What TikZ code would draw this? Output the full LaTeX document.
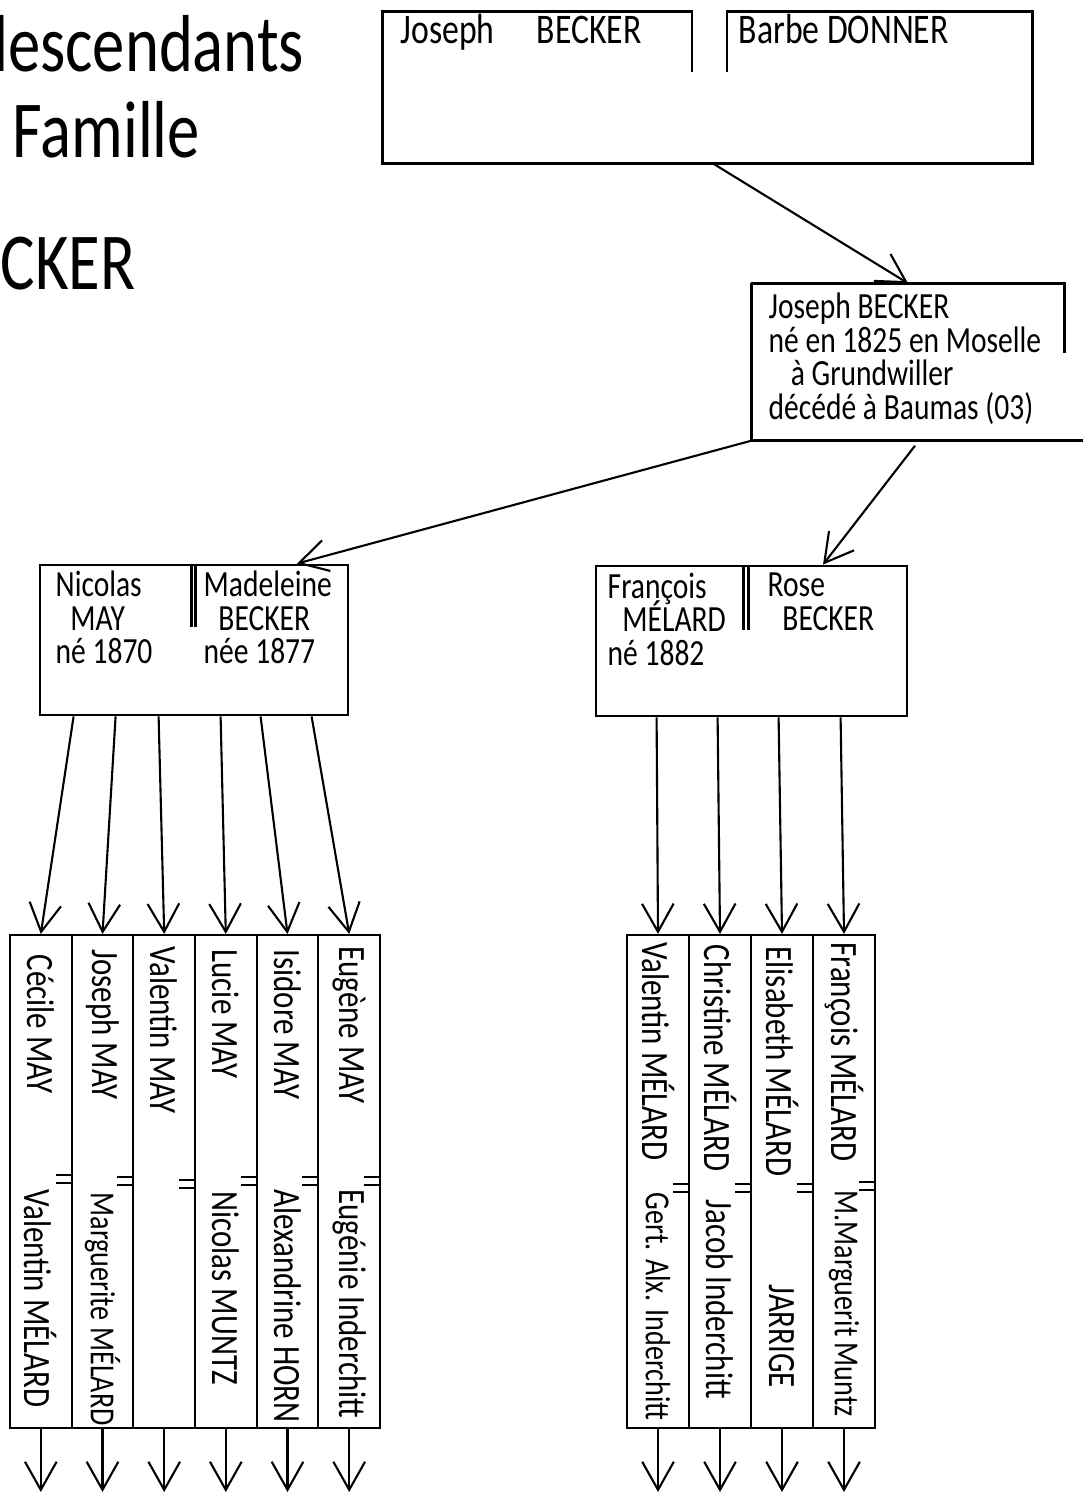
\documentclass[tikz,border=0pt]{standalone}
\usepackage{fontspec}
\setmainfont[FakeStretch=0.8]{Carlito}
\usetikzlibrary{arrows.meta}

\newcommand{\marry}[2]{\draw[thick] ([yshift=-#2cm]#1.north east) -- ++(-0.17,0) ([yshift=-#2cm-0.08cm]#1.north east) -- ++(-0.17,0);}
\newcommand{\packed}{\lineskiplimit=-100pt\relax\lineskip=0pt\relax}

\begin{document}
\begin{tikzpicture}[
    hand/.style={font=\fontsize{11}{12}\selectfont, inner sep=0pt},
    lines/.style={font=\fontsize{10.5}{9.6}\selectfont\packed, inner sep=0pt, anchor=north west, align=left},
    title/.style={font=\fontsize{23}{26}\selectfont, inner sep=0pt},
    frame/.style={minimum width=#1, minimum height=1.5cm, inner sep=0pt},
    couple/.style={draw, thick, minimum width=#1, minimum height=1.5cm, inner sep=0pt},
    col/.style={draw, semithick, minimum width=#1, minimum height=4.93cm, inner sep=0pt},
    kid/.style={hand, rotate=-90, anchor=west},
    small/.style={font=\fontsize{10}{12}\selectfont},
    arrow/.style={-{Straight Barb[length=8pt,width=9pt]}, semithick}
]
\useasboundingbox (0,0) rectangle (10.9,-14.99);

% Title
\node[title, anchor=base east] (tdesc) at (3.05,-0.72) {descendants};
\node[title, anchor=base west] (tfam) at (0.12,-1.58) {Famille};
\node[title, anchor=base east] (tname) at (1.36,-2.90) {BECKER};

% Parents
\node[frame=6.49cm] (top) at (7.075,-0.875) {};
\draw[thick] ([xshift=-0.155cm,yshift=-0.6cm]top.north) -- ([xshift=-0.155cm]top.north) -- (top.north west) -- (top.south west)
    -- (top.south east) -- (top.north east) -- ([xshift=0.195cm]top.north) -- ([xshift=0.195cm,yshift=-0.6cm]top.north);
\node[hand, font=\fontsize{12}{14}\selectfont, anchor=base west] (tjos) at (4.00,-0.44) {Joseph\quad BECKER};
\node[hand, font=\fontsize{12}{14}\selectfont, anchor=base west] (tbar) at (7.38,-0.44) {Barbe DONNER};

% Joseph
\node[frame=3.12cm, minimum height=1.56cm] (jb) at (9.08,-3.62) {};
\draw[thick] (jb.north west) -- (jb.north east) -- ([yshift=-0.7cm]jb.north east);
\draw[thick] (jb.north west) -- (jb.south west) -- ([xshift=0.18cm]jb.south east);
\node[lines] (jbtxt) at (7.68,-2.92)
    {Joseph BECKER\\né en 1825 en Moselle\\\hspace*{0.6em}à Grundwiller\\décédé à Baumas (03)};

% Couples
\node[couple=3.08cm] (nm) at (1.94,-6.40) {};
\draw[thick] ([xshift=1.53cm]nm.north west) -- ++(0,-0.63) ([xshift=1.57cm]nm.north west) -- ++(0,-0.63);
\node[lines] (nmay) at (0.55,-5.70) {Nicolas\\\hspace*{0.4em}MAY\\né 1870};
\node[lines] (mbec) at (2.03,-5.70) {Madeleine\\\hspace*{0.4em}BECKER\\née 1877};

\node[couple=3.11cm] (fr) at (7.515,-6.41) {};
\draw[thick] ([xshift=1.49cm]fr.north west) -- ++(0,-0.65) ([xshift=1.54cm]fr.north west) -- ++(0,-0.65);
\node[lines] (fmel) at (6.07,-5.72) {François\\\hspace*{0.4em}MÉLARD\\né 1882};
\node[lines] (rbec) at (7.67,-5.72) {Rose\\\hspace*{0.4em}BECKER};

% Children MAY
\node[col=0.617cm] (c1) at (0.408,-11.815) {};
\node[col=0.617cm] (c2) at (1.025,-11.815) {};
\node[col=0.617cm] (c3) at (1.642,-11.815) {};
\node[col=0.617cm] (c4) at (2.258,-11.815) {};
\node[col=0.617cm] (c5) at (2.875,-11.815) {};
\node[col=0.617cm] (c6) at (3.492,-11.815) {};

\node[kid] (k1) at ([yshift=-0.2cm]c1.north) {Cécile MAY};
\node[kid] (k2) at ([yshift=-0.15cm]c2.north) {Joseph MAY};
\node[kid] (k3) at ([yshift=-0.12cm]c3.north) {Valentin MAY};
\node[kid] (k4) at ([yshift=-0.15cm]c4.north) {Lucie MAY};
\node[kid] (k5) at ([yshift=-0.15cm]c5.north) {Isidore MAY};
\node[kid] (k6) at ([yshift=-0.12cm]c6.north) {Eugène MAY};

\node[kid] (s1) at ([yshift=-2.55cm]c1.north) {Valentin MÉLARD};
\node[kid, small] (s2) at ([yshift=-2.58cm]c2.north) {Marguerite MÉLARD};
\node[kid] (s4) at ([yshift=-2.57cm]c4.north) {Nicolas MUNTZ};
\node[kid] (s5) at ([yshift=-2.55cm]c5.north) {Alexandrine HORN};
\node[kid] (s6) at ([yshift=-2.55cm]c6.north) {Eugénie Inderchitt};

\marry{c1}{2.41}
\marry{c2}{2.43}
\marry{c3}{2.46}
\marry{c4}{2.43}
\marry{c5}{2.43}
\marry{c6}{2.43}

% Children MELARD
\node[col=0.62cm] (d1) at (6.58,-11.815) {};
\node[col=0.62cm] (d2) at (7.20,-11.815) {};
\node[col=0.62cm] (d3) at (7.82,-11.815) {};
\node[col=0.62cm] (d4) at (8.44,-11.815) {};

\node[kid] (kd1) at ([yshift=-0.08cm]d1.north) {Valentin MÉLARD};
\node[kid] (kd2) at ([yshift=-0.1cm]d2.north) {Christine MÉLARD};
\node[kid] (kd3) at ([yshift=-0.12cm]d3.north) {Elisabeth MÉLARD};
\node[kid] (kd4) at ([yshift=-0.08cm]d4.north) {François MÉLARD};

\node[kid, small] (sd1) at ([yshift=-2.58cm]d1.north) {Gert. Alx. Inderchitt};
\node[kid] (sd2) at ([yshift=-2.65cm]d2.north) {Jacob Inderchitt};
\node[kid] (sd3) at ([yshift=-3.5cm]d3.north) {JARRIGE};
\node[kid, small] (sd4) at ([yshift=-2.56cm]d4.north) {M.Marguerit Muntz};

\marry{d1}{2.50}
\marry{d2}{2.50}
\marry{d3}{2.50}
\marry{d4}{2.48}

% Arrows
\draw[arrow] ([xshift=0.05cm]top.south) -- (jb.north);
\draw[arrow] (jb.south west) -- ([xshift=1.03cm]nm.north);
\draw[arrow] ([xshift=0.07cm,yshift=-0.05cm]jb.south) -- ([xshift=0.715cm]fr.north);

\draw[arrow] ([xshift=0.35cm]nm.south west) -- (c1.north);
\draw[arrow] ([xshift=0.77cm]nm.south west) -- (c2.north);
\draw[arrow] ([xshift=1.20cm]nm.south west) -- (c3.north);
\draw[arrow] ([xshift=1.82cm]nm.south west) -- (c4.north);
\draw[arrow] ([xshift=2.22cm]nm.south west) -- (c5.north);
\draw[arrow] ([xshift=2.73cm]nm.south west) -- (c6.north);

\draw[arrow] ([xshift=0.62cm]fr.south west) -- (d1.north);
\draw[arrow] ([xshift=1.23cm]fr.south west) -- (d2.north);
\draw[arrow] ([xshift=1.84cm]fr.south west) -- (d3.north);
\draw[arrow] ([xshift=2.46cm]fr.south west) -- (d4.north);

% Next generation
\coordinate (out) at (0,-14.92);
\draw[arrow] (c1.south) -- (c1.south |- out);
\draw[arrow] (c2.south) -- (c2.south |- out);
\draw[arrow] (c3.south) -- (c3.south |- out);
\draw[arrow] (c4.south) -- (c4.south |- out);
\draw[arrow] (c5.south) -- (c5.south |- out);
\draw[arrow] (c6.south) -- (c6.south |- out);
\draw[arrow] (d1.south) -- (d1.south |- out);
\draw[arrow] (d2.south) -- (d2.south |- out);
\draw[arrow] (d3.south) -- (d3.south |- out);
\draw[arrow] (d4.south) -- (d4.south |- out);

\end{tikzpicture}
\end{document}
